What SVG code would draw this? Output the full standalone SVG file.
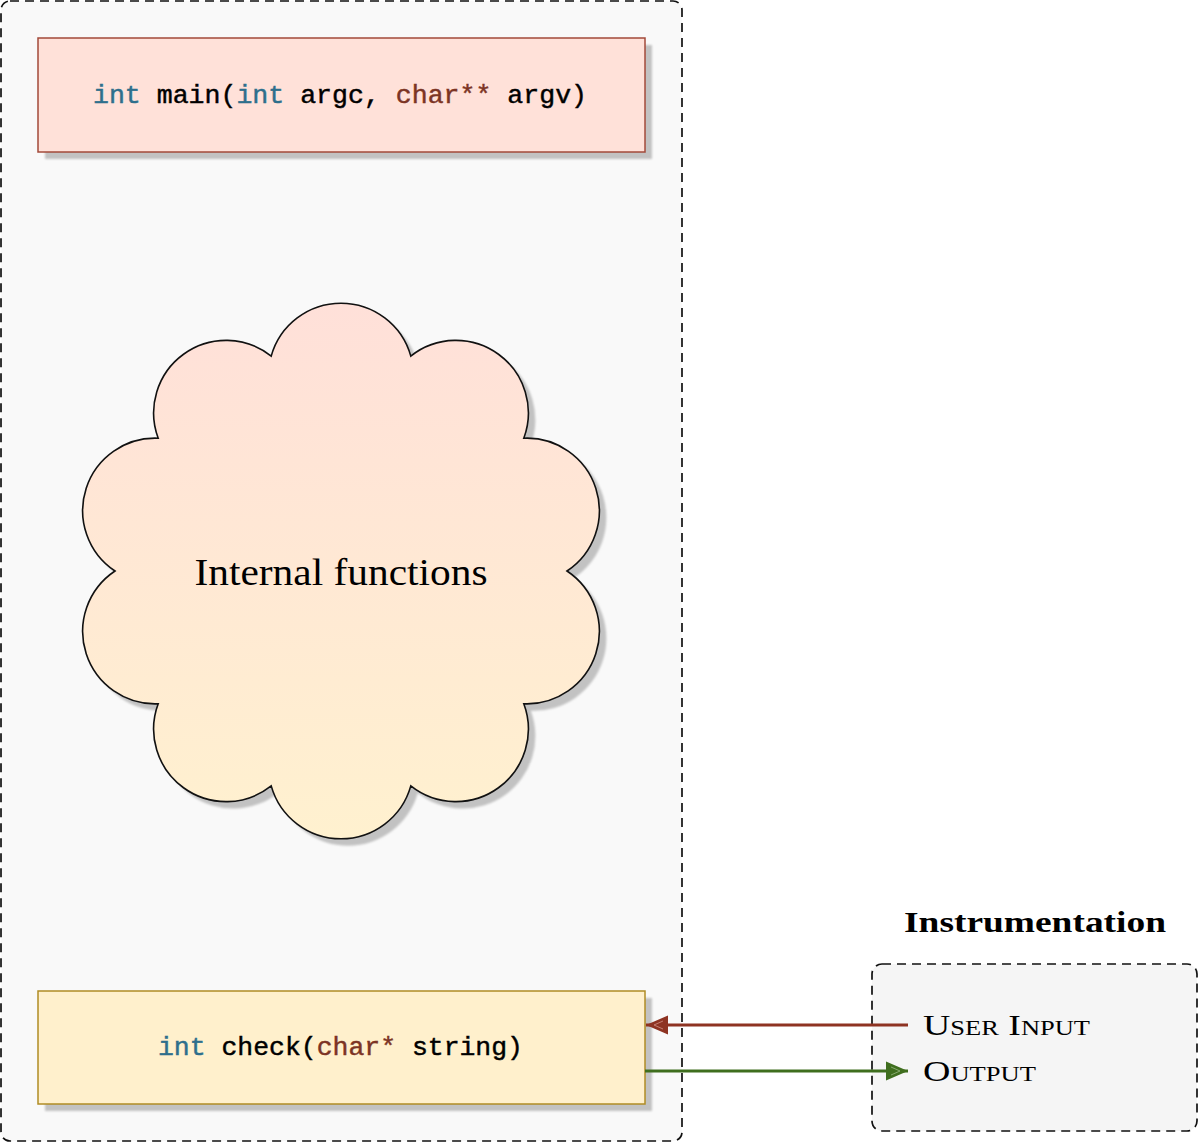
<svg xmlns="http://www.w3.org/2000/svg" width="1200" height="1143" viewBox="0 0 1200 1143">
<style>
.code{font-family:"Liberation Mono","DejaVu Sans Mono",monospace;font-size:26.5px;fill:#000;stroke:#000;stroke-width:0.45}
.kw{fill:#2e6f8c;stroke:#2e6f8c}
.ty{fill:#7c3424;stroke:#7c3424}
.serif{font-family:"Liberation Serif","DejaVu Serif",serif;fill:#000}
.shadow{fill:#c2c2c2;filter:url(#blur)}
.dash{stroke:#111;stroke-width:1.7;stroke-dasharray:9 6;}
</style>
<defs>
<filter id="blur" x="-10%" y="-10%" width="120%" height="120%"><feGaussianBlur stdDeviation="1"/></filter>
<linearGradient id="cloudg" x1="0" y1="0" x2="0" y2="1">
<stop offset="0" stop-color="#ffe0d9"/>
<stop offset="1" stop-color="#fff1cf"/>
</linearGradient>
<marker id="arrRed" markerUnits="userSpaceOnUse" markerWidth="26" markerHeight="22" refX="22" refY="11" orient="auto">
<path d="M0,1.5 L22,11 L0,20.5 Z" fill="#8e3322"/>
<path d="M5,7 L14,11 L5,15" fill="none" stroke="#c98578" stroke-width="0.9"/>
</marker>
<marker id="arrGreen" markerUnits="userSpaceOnUse" markerWidth="26" markerHeight="22" refX="22" refY="11" orient="auto">
<path d="M0,1.5 L22,11 L0,20.5 Z" fill="#3f6e1e"/>
<path d="M5,7 L14,11 L5,15" fill="none" stroke="#8fb077" stroke-width="0.9"/>
</marker>
</defs>

<g id="program-container">
<rect x="1" y="1" width="681" height="1140" rx="9" fill="#f9f9f9" class="dash"/>
</g>

<g id="main-node">
<rect x="45" y="45" width="607" height="114" class="shadow"/>
<rect x="38" y="38" width="607" height="114" fill="#ffe1d9" stroke="#a34a3a" stroke-width="1.5"/>
<text x="93" y="103" class="code" textLength="494" lengthAdjust="spacingAndGlyphs"><tspan class="kw">int</tspan> main(<tspan class="kw">int</tspan> argc, <tspan class="ty">char**</tspan> argv)</text>
</g>

<g id="internal-functions">
<path transform="translate(7,7)" class="shadow" d="M567,571 A72.5,72.5 0 0 0 523.8,438.2 A72.5,72.5 0 0 0 410.8,356.1 A72.5,72.5 0 0 0 271.2,356.1 A72.5,72.5 0 0 0 158.2,438.2 A72.5,72.5 0 0 0 115,571 A72.5,72.5 0 0 0 158.2,703.8 A72.5,72.5 0 0 0 271.2,785.9 A72.5,72.5 0 0 0 410.8,785.9 A72.5,72.5 0 0 0 523.8,703.8 A72.5,72.5 0 0 0 567,571 Z"/>
<path fill="url(#cloudg)" stroke="#111" stroke-width="1.6" d="M567,571 A72.5,72.5 0 0 0 523.8,438.2 A72.5,72.5 0 0 0 410.8,356.1 A72.5,72.5 0 0 0 271.2,356.1 A72.5,72.5 0 0 0 158.2,438.2 A72.5,72.5 0 0 0 115,571 A72.5,72.5 0 0 0 158.2,703.8 A72.5,72.5 0 0 0 271.2,785.9 A72.5,72.5 0 0 0 410.8,785.9 A72.5,72.5 0 0 0 523.8,703.8 A72.5,72.5 0 0 0 567,571 Z"/>
<text x="341" y="585" text-anchor="middle" class="serif" font-size="37" textLength="293" lengthAdjust="spacingAndGlyphs">Internal functions</text>
</g>

<g id="check-node">
<rect x="45" y="998" width="607" height="113" class="shadow"/>
<rect x="38" y="991" width="607" height="113" fill="#fff0cc" stroke="#b08c24" stroke-width="1.5"/>
<text x="158" y="1055" class="code" textLength="365" lengthAdjust="spacingAndGlyphs"><tspan class="kw">int</tspan> check(<tspan class="ty">char*</tspan> string)</text>
</g>

<g id="instrumentation">
<text x="1035" y="932" text-anchor="middle" class="serif" font-weight="bold" font-size="30" textLength="262" lengthAdjust="spacingAndGlyphs">Instrumentation</text>
<rect x="872" y="964" width="325" height="167" rx="10" fill="#f5f5f5" class="dash"/>
<text x="923" y="1035" class="serif" font-size="30" font-variant="small-caps" textLength="167" lengthAdjust="spacingAndGlyphs">User Input</text>
<text x="923" y="1081" class="serif" font-size="30" font-variant="small-caps" textLength="113" lengthAdjust="spacingAndGlyphs">Output</text>
</g>

<g id="connectors">
<line x1="908" y1="1025" x2="646" y2="1025" stroke="#8e3322" stroke-width="3" marker-end="url(#arrRed)"/>
<line x1="645" y1="1071" x2="908" y2="1071" stroke="#3f6e1e" stroke-width="3" marker-end="url(#arrGreen)"/>
</g>
</svg>
